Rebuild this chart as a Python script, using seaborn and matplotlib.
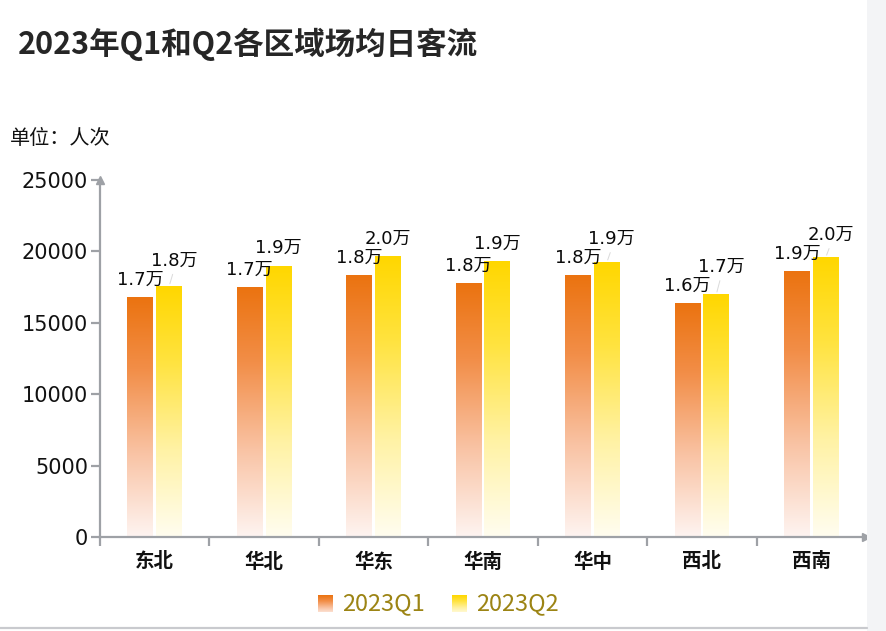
import numpy as np
import pandas as pd
import matplotlib
matplotlib.use('Agg')
import matplotlib.pyplot as plt
import seaborn as sns
from matplotlib.colors import LinearSegmentedColormap
from matplotlib.patches import Rectangle
from matplotlib.lines import Line2D

# ---------------- data ----------------
regions = ['东北', '华北', '华东', '华南', '华中', '西北', '西南']
q1_values = [16760, 17450, 18280, 17740, 18280, 16320, 18560]
q2_values = [17550, 18960, 19610, 19260, 19220, 16970, 19560]
series = ['2023Q1', '2023Q2']
title = '2023年Q1和Q2各区域场均日客流'
unit_label = '单位：人次'
yticks = [0, 5000, 10000, 15000, 20000, 25000]

df = pd.DataFrame({
    'region': regions * 2,
    'value': q1_values + q2_values,
    'quarter': [series[0]] * len(regions) + [series[1]] * len(regions),
})

# ---------------- style ----------------
sns.set_theme(style='white')
plt.rcParams['font.family'] = ['DejaVu Sans', 'Noto Sans CJK SC']
CJK = ['Noto Sans CJK SC', 'DejaVu Sans']
AXC = '#9EA1A6'

W, H = 886, 631
fig = plt.figure(figsize=(W / 100, H / 100), dpi=100)
fig.patch.set_facecolor('white')

# right gray strip and bottom line
fig.patches.append(Rectangle((867 / W, 0), 1 - 867 / W, 1, transform=fig.transFigure,
                             facecolor='#F3F4F6', edgecolor='none', zorder=0))
fig.add_artist(Line2D([0, 867 / W], [1 - 628 / H, 1 - 628 / H], transform=fig.transFigure,
                      color='#C9CACE', lw=1.6))

ax = fig.add_axes([100 / W, (H - 537) / H, 766 / W, 357 / H])
ax.set_facecolor('none')

sns.barplot(data=df, x='region', y='value', hue='quarter', order=regions,
            hue_order=series, width=0.525, gap=0.1,
            palette=['#EC7411', '#FFD800'], legend=False, ax=ax, zorder=2)

# gradient fill for bars
stops = [
    ['#FEF4F1', '#F9C3A4', '#F28E48', '#EB7310'],
    ['#FFFDF0', '#FFF2A4', '#FFE33F', '#FFD700'],
]
grad = np.linspace(0, 1, 256).reshape(-1, 1)
centers = []
for cont, st in zip(ax.containers, stops):
    cmap = LinearSegmentedColormap.from_list('g', list(zip([0, 0.35, 0.7, 1.0], st)))
    cs = []
    for p in cont.patches:
        x0, w, h = p.get_x(), p.get_width(), p.get_height()
        ax.imshow(grad, extent=[x0, x0 + w, 0, h], origin='lower', aspect='auto',
                  cmap=cmap, zorder=2, interpolation='bilinear')
        p.set_facecolor('none')
        p.set_edgecolor('none')
        cs.append(x0 + w / 2)
    centers.append(cs)

ax.set_xlim(-0.5, len(regions) - 0.5)
ax.set_ylim(0, 25000)
ax.set_yticks(yticks)
ax.set_xlabel('')
ax.set_ylabel('')

# spines
for s in ['top', 'right']:
    ax.spines[s].set_visible(False)
for s in ['left', 'bottom']:
    ax.spines[s].set_color(AXC)
    ax.spines[s].set_linewidth(1.6)

ax.tick_params(axis='y', left=True, length=6.5, width=1.6, color=AXC, pad=2,
               labelsize=15, labelcolor='#111111')
ax.tick_params(axis='x', which='major', bottom=True, length=0, pad=11,
               labelsize=14, labelcolor='#111111')
ax.set_xticks(np.arange(-0.5, len(regions) - 0.5, 1), minor=True)
ax.tick_params(axis='x', which='minor', bottom=True, length=6.5, width=1.6, color=AXC)
for lab in ax.get_xticklabels():
    lab.set_fontfamily(CJK)
    lab.set_fontweight('bold')

# axis arrows
ax.plot([0], [1], marker='^', markersize=6, color=AXC, transform=ax.transAxes,
        clip_on=False, zorder=5)
ax.plot([1], [0], marker='>', markersize=6, color=AXC, transform=ax.transAxes,
        clip_on=False, zorder=5)

# data labels
px_per_unit = 357 / 25000
base_off = 9
lab_h = 17
for i in range(len(regions)):
    v1, v2 = q1_values[i], q2_values[i]
    t1 = f'{v1 / 10000:.1f}万'
    t2 = f'{v2 / 10000:.1f}万'
    ax.annotate(t1, xy=(centers[0][i], v1), xytext=(0, base_off * 0.72),
                textcoords='offset points', ha='center', va='bottom',
                fontsize=13, color='#0A0A0A', zorder=6)
    y1px, y2px = v1 * px_per_unit, v2 * px_per_unit
    off2 = max(base_off, y1px + base_off + lab_h + 2 - y2px)
    shift = 5 if off2 > base_off + 3 else 0
    ax.annotate(t2, xy=(centers[1][i], v2), xytext=(shift * 0.72, off2 * 0.72),
                textcoords='offset points', ha='center', va='bottom',
                fontsize=13, color='#0A0A0A', zorder=6)
    if off2 > base_off + 3:
        ax.annotate('', xy=(centers[1][i], v2), xytext=(centers[1][i] + 0.04, v2 + (off2 - 2) / px_per_unit),
                    arrowprops=dict(arrowstyle='-', color='#DADADA', lw=0.7), zorder=1)

# title and unit
fig.text(18 / W, 1 - 44 / H, title, fontsize=22, fontweight='bold', color='#262626',
         va='center', ha='left', family=CJK)
fig.text(10 / W, 1 - 138 / H, unit_label, fontsize=14.5, color='#111111',
         va='center', ha='left', family=CJK)

# legend (gradient squares + text)
leg_items = [(318, 342), (452, 476)]
for (mx, tx), st, name in zip(leg_items, stops, series):
    lax = fig.add_axes([mx / W, (H - 612) / H, 15 / W, 17 / H])
    cmap = LinearSegmentedColormap.from_list('gl', list(zip([0, 0.35, 0.7, 1.0], st)))
    lax.imshow(np.linspace(0.15, 1, 64).reshape(-1, 1), origin='lower', aspect='auto',
               cmap=cmap, vmin=0, vmax=1)
    lax.axis('off')
    fig.text(tx / W, 1 - 604 / H, name, fontsize=17, color='#9C8414', va='center',
             ha='left', family=CJK)

fig.savefig('out.png', dpi=100)
